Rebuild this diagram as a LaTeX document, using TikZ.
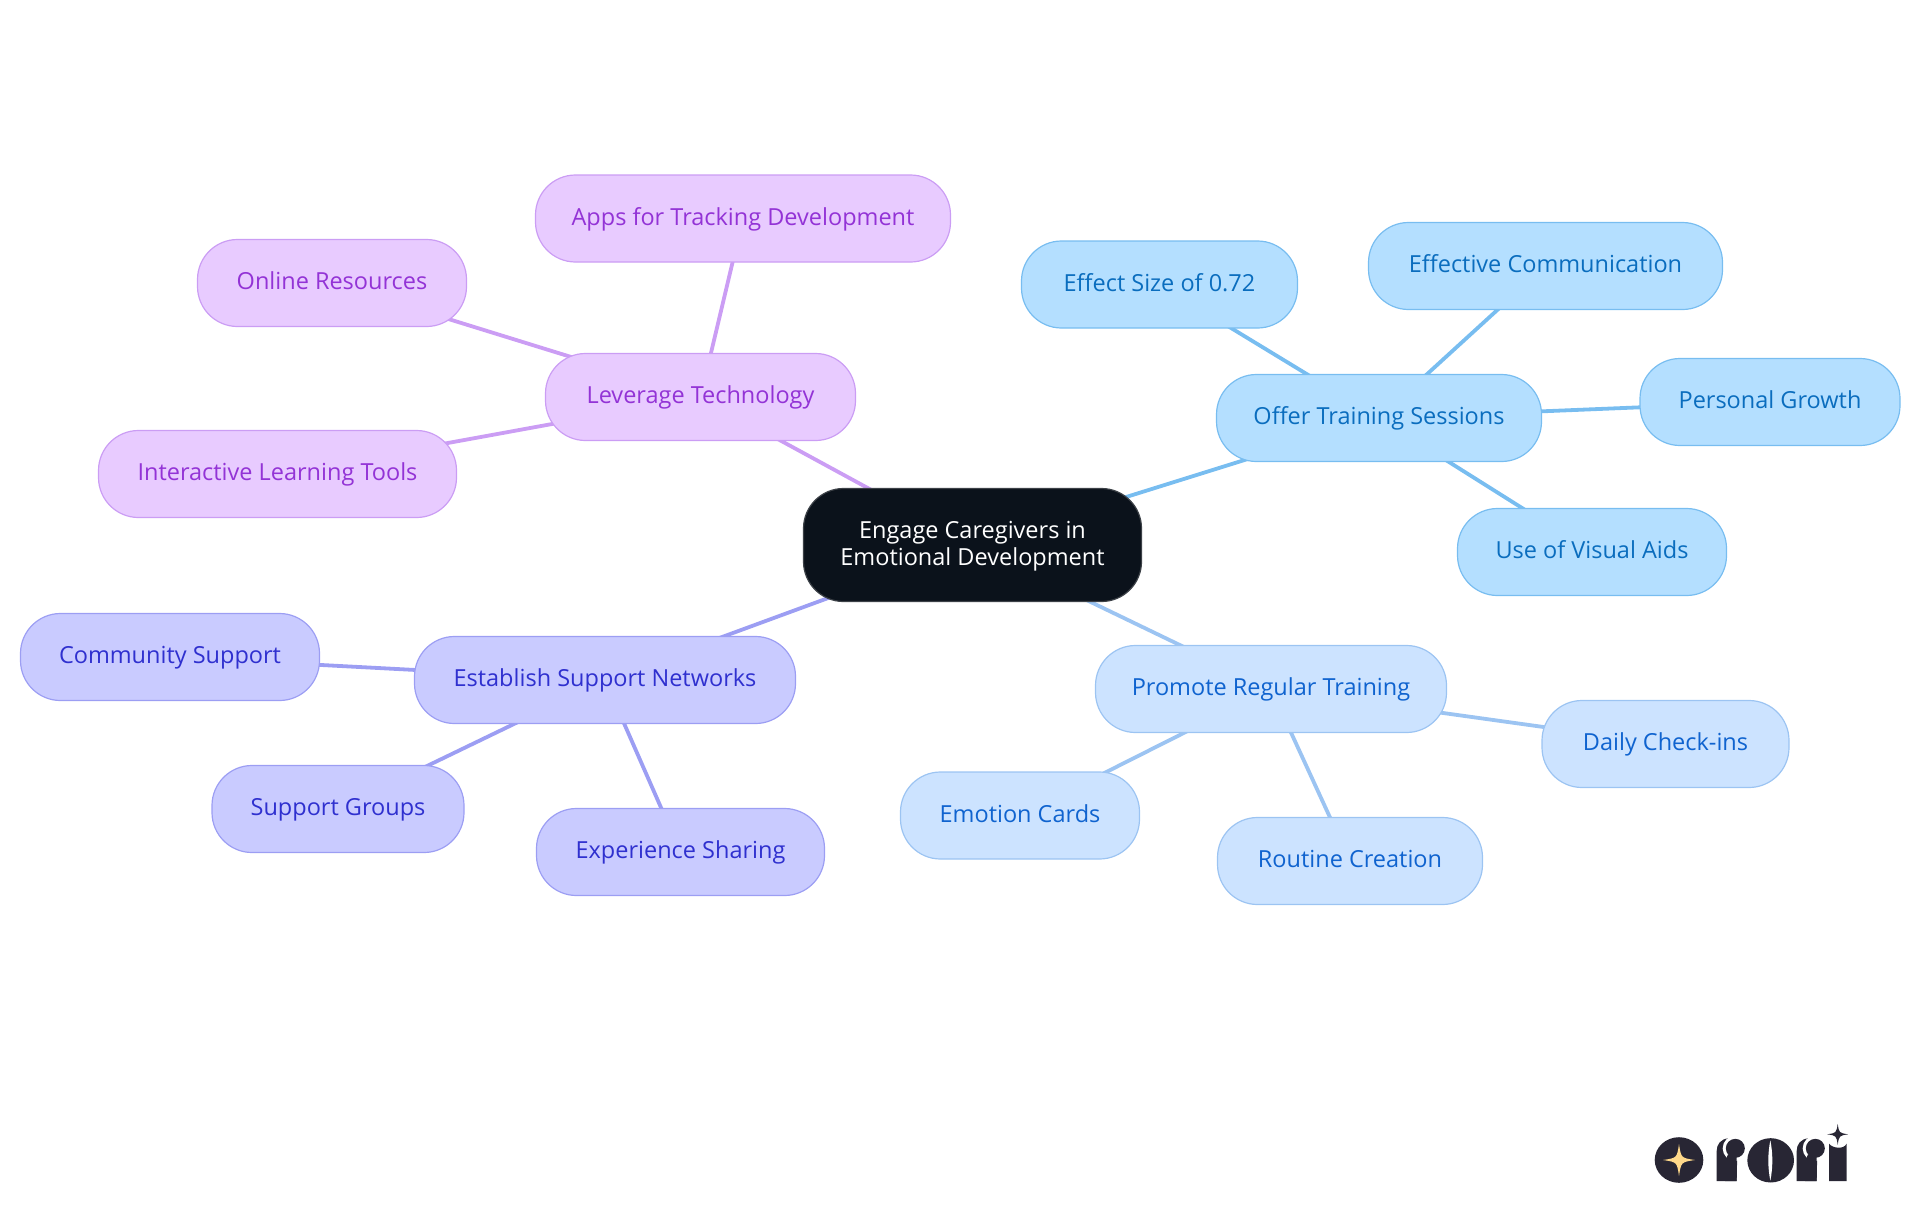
\documentclass[tikz,border=0pt]{standalone}
\usepackage{fontspec}
\setmainfont{Open Sans}
\usetikzlibrary{backgrounds}
\definecolor{pfill}{HTML}{E8CBFF}\definecolor{pline}{HTML}{CB9DF4}\definecolor{ptext}{HTML}{9333D6}
\definecolor{bfill}{HTML}{B4DFFF}\definecolor{bline}{HTML}{78BDF0}\definecolor{btext}{HTML}{0A6DBE}
\definecolor{lfill}{HTML}{CCE3FF}\definecolor{lline}{HTML}{9CC4F2}\definecolor{ltext}{HTML}{0F63CF}
\definecolor{ifill}{HTML}{C9CBFF}\definecolor{iline}{HTML}{9C9EF3}\definecolor{itext}{HTML}{2F30CF}
\definecolor{rootfill}{HTML}{0B121B}\definecolor{rootline}{HTML}{3C4147}
\definecolor{logodark}{HTML}{282634}\definecolor{logostar}{HTML}{FFD98A}
\tikzset{
  x=1pt,y=-1pt,
  mapnode/.style={rectangle,rounded corners=40pt,minimum height=87pt,inner sep=0pt,line width=1.2pt,align=center,text height=18.2pt,text depth=4.4pt,font=\fontsize{23.5}{26.7}\selectfont},
  purplenode/.style={mapnode,draw=pline,fill=pfill,text=ptext},
  bluenode/.style={mapnode,draw=bline,fill=bfill,text=btext},
  lightnode/.style={mapnode,draw=lline,fill=lfill,text=ltext},
  indigonode/.style={mapnode,draw=iline,fill=ifill,text=itext},
  rootnode/.style={mapnode,draw=rootline,fill=rootfill,text=white,minimum height=113pt,rounded corners=40pt,text height=44.7pt,text depth=4.7pt},
  link/.style={line width=3.8pt},
}
\newcommand{\starshape}[4]{\fill[#4] ({#1},{#2-#3}) .. controls ({#1+.13*#3},{#2-.13*#3}) .. ({#1+#3},{#2}) .. controls ({#1+.13*#3},{#2+.13*#3}) .. ({#1},{#2+#3}) .. controls ({#1-.13*#3},{#2+.13*#3}) .. ({#1-#3},{#2}) .. controls ({#1-.13*#3},{#2-.13*#3}) .. cycle;}
\newcommand{\logor}[1]{%
  \begin{scope}[xshift=#1*1pt]
    \fill[logodark] (50,198) -- (50,108) .. controls (50,88) and (62,72) .. (85,70) -- (112,100) -- (110,198) -- cycle;
    \fill[white] (106,100) circle[radius=38];
    \fill[logodark] (106,100) circle[radius=28.5];
    \fill[logodark] (84,118) -- (110,125) -- (110,198) -- (75,198) -- (75,140) -- cycle;
  \end{scope}}
\begin{document}
\begin{tikzpicture}
\path[use as bounding box] (0,0) rectangle (1920,1215);
\node[rootnode,minimum width=338pt] (root) at (972.5,545) {Engage Caregivers in\\Emotional Development};
\node[purplenode,minimum width=310pt] (tech) at (700.5,397) {Leverage Technology};
\node[purplenode,minimum width=415pt] (apps) at (743,218.5) {Apps for Tracking Development};
\node[purplenode,minimum width=269pt] (online) at (332,283) {Online Resources};
\node[purplenode,minimum width=358pt] (inter) at (277.5,474) {Interactive Learning Tools};
\node[bluenode,minimum width=325pt] (offer) at (1379,418) {Offer Training Sessions};
\node[bluenode,minimum width=276pt] (effect) at (1159.5,284.5) {Effect Size of 0.72};
\node[bluenode,minimum width=354pt] (comm) at (1545.5,266) {Effective Communication};
\node[bluenode,minimum width=260pt] (growth) at (1770,402) {Personal Growth};
\node[bluenode,minimum width=269pt] (visual) at (1592,552) {Use of Visual Aids};
\node[lightnode,minimum width=351pt] (promote) at (1271,689) {Promote Regular Training};
\node[lightnode,minimum width=247pt] (daily) at (1665.5,744) {Daily Check-ins};
\node[lightnode,minimum width=239pt] (cards) at (1020,815.5) {Emotion Cards};
\node[lightnode,minimum width=265pt] (routine) at (1350,861) {Routine Creation};
\node[indigonode,minimum width=381pt] (support) at (605,680) {Establish Support Networks};
\node[indigonode,minimum width=299pt] (community) at (170,657) {Community Support};
\node[indigonode,minimum width=252pt] (groups) at (338,809) {Support Groups};
\node[indigonode,minimum width=288pt] (sharing) at (680.5,852) {Experience Sharing};
\begin{scope}[on background layer]
  \draw[link,pline] (root.center) -- (tech.center) (tech.center) -- (apps.center) (tech.center) -- (online.center) (tech.center) -- (inter.center);
  \draw[link,bline] (root.center) -- (offer.center) (offer.center) -- (effect.center) (offer.center) -- (comm.center) (offer.center) -- (growth.center) (offer.center) -- (visual.center);
  \draw[link,lline] (root.center) -- (promote.center) (promote.center) -- (daily.center) (promote.center) -- (cards.center) (promote.center) -- (routine.center);
  \draw[link,iline] (root.center) -- (support.center) (support.center) -- (community.center) (support.center) -- (groups.center) (support.center) -- (sharing.center);
\end{scope}
% logo
\fill[logodark] (1679,1160) ellipse[x radius=24.3,y radius=22.8];
\starshape{1679}{1160}{16}{logostar}
\begin{scope}[shift={(1700,1115)},x=0.3333pt,y=-0.3333pt]
  \logor{0}
  \logor{80}
  \fill[logodark] (212,136) ellipse[x radius=70,y radius=66.5];
  \fill[white] (211,76) .. controls (203,115) and (203,158) .. (211,197) .. controls (219,158) and (219,115) .. cycle;
  \fill[logodark] (387,198) -- (387,86) .. controls (395,98) and (430,106) .. (440,86) -- (440,198) -- cycle;
\end{scope}
\starshape{1837.7}{1134.3}{10.5}{logodark}
\end{tikzpicture}
\end{document}
